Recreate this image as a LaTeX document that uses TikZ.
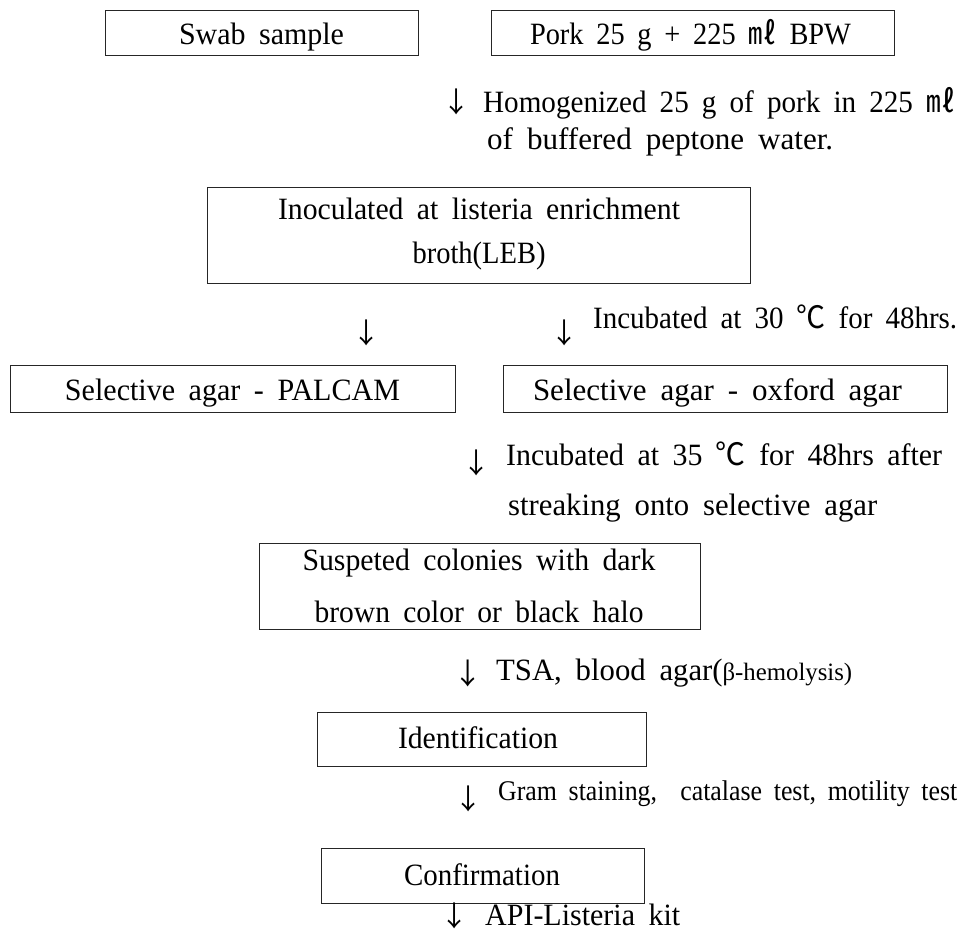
\documentclass[tikz,border=0pt]{standalone}
\usepackage{fontspec}
\usepackage{graphicx}
\setmainfont{Liberation Serif}[WordSpace=1.8]
\newfontfamily\cjkfont{Noto Sans CJK KR}
\newcommand\fw[2]{\resizebox{#1pt}{\height}{#2}}
\newcommand\dnarrow[1]{\resizebox*{!}{#1pt}{\cjkfont ↓}}
\begin{document}
\begin{tikzpicture}[x=1pt,y=-1pt,
  box/.style={draw=black!85, line width=1pt, rectangle, inner sep=0pt},
  txt/.style={inner sep=0pt, font=\fontsize{31}{36}\selectfont},
  arr/.style={inner sep=0pt, anchor=north}]
\useasboundingbox (0,0) rectangle (960,932);
% boxes
\node[box, minimum width=313pt, minimum height=45pt] (swab) at (261.5,32.5) {};
\node[box, minimum width=403pt, minimum height=45pt] (pork) at (692.5,32.5) {};
\node[box, minimum width=543pt, minimum height=96pt] (inoc) at (478.5,235) {};
\node[box, minimum width=445pt, minimum height=47pt] (palcam) at (232.5,388.5) {};
\node[box, minimum width=444pt, minimum height=47pt] (oxford) at (725,388.5) {};
\node[box, minimum width=441pt, minimum height=86pt] (susp) at (479.5,586) {};
\node[box, minimum width=329pt, minimum height=54pt] (ident) at (481.5,739) {};
\node[box, minimum width=323pt, minimum height=55pt] (conf) at (482.5,875.5) {};
% box texts
\node[txt, anchor=base] (swabt) at (261.5,44) {\fw{165}{Swab sample}};
\node[txt, anchor=base] (porkt) at (690.5,44) {\fw{321}{Pork 25 g + 225 {\cjkfont ㎖} BPW}};
\node[txt, anchor=base] (inoct1) at (479,219) {\fw{402}{Inoculated at listeria enrichment}};
\node[txt, anchor=base] (inoct2) at (479,263) {\fw{133}{broth(LEB)}};
\node[txt, anchor=base] (palcamt) at (232.5,400) {\fw{335}{Selective agar - PALCAM}};
\node[txt, anchor=base] (oxfordt) at (717.5,400) {\fw{369}{Selective agar - oxford agar}};
\node[txt, anchor=base] (suspt1) at (479,570) {\fw{353}{Suspeted colonies with dark}};
\node[txt, anchor=base] (suspt2) at (479,622) {\fw{329}{brown color or black halo}};
\node[txt, anchor=base] (identt) at (478,748) {\fw{160}{Identification}};
\node[txt, anchor=base] (conft) at (482,885) {\fw{156}{Confirmation}};
% arrows (printed as characters)
\node[arr] (a1) at (457,89) {\dnarrow{26}};
\node[arr] (a2) at (367,320) {\dnarrow{26}};
\node[arr] (a3) at (565,320) {\dnarrow{26}};
\node[arr] (a4) at (477,450) {\dnarrow{26}};
\node[arr] (a5) at (468,660) {\dnarrow{27}};
\node[arr] (a6) at (469,786) {\dnarrow{26}};
\node[arr] (a7) at (455,903) {\dnarrow{26}};
% step notes
\node[txt, anchor=base west] (h1) at (483,112) {\fw{472}{Homogenized 25 g of pork in 225 {\cjkfont ㎖}}};
\node[txt, anchor=base west] (h2) at (487,149) {\fw{346}{of buffered peptone water.}};
\node[txt, anchor=base west] (inc30) at (593,328) {\fw{364}{Incubated at 30 {\cjkfont ℃} for 48hrs.}};
\node[txt, anchor=base west] (inc35a) at (506,465) {\fw{436}{Incubated at 35 {\cjkfont ℃} for 48hrs after}};
\node[txt, anchor=base west] (inc35b) at (508,515) {\fw{369}{streaking onto selective agar}};
\node[txt, anchor=base west] (tsa) at (496,680) {\fw{356}{TSA, blood agar({\fontsize{25}{29}\selectfont β-hemolysis)}}};
\node[txt, anchor=base west] (gram) at (498,800) {\fw{459}{\fontsize{28.5}{33}\selectfont Gram staining,\ \ catalase test, motility test}};
\node[txt, anchor=base west] (api) at (485,925) {\fw{195}{API-Listeria kit}};
\end{tikzpicture}
\end{document}
